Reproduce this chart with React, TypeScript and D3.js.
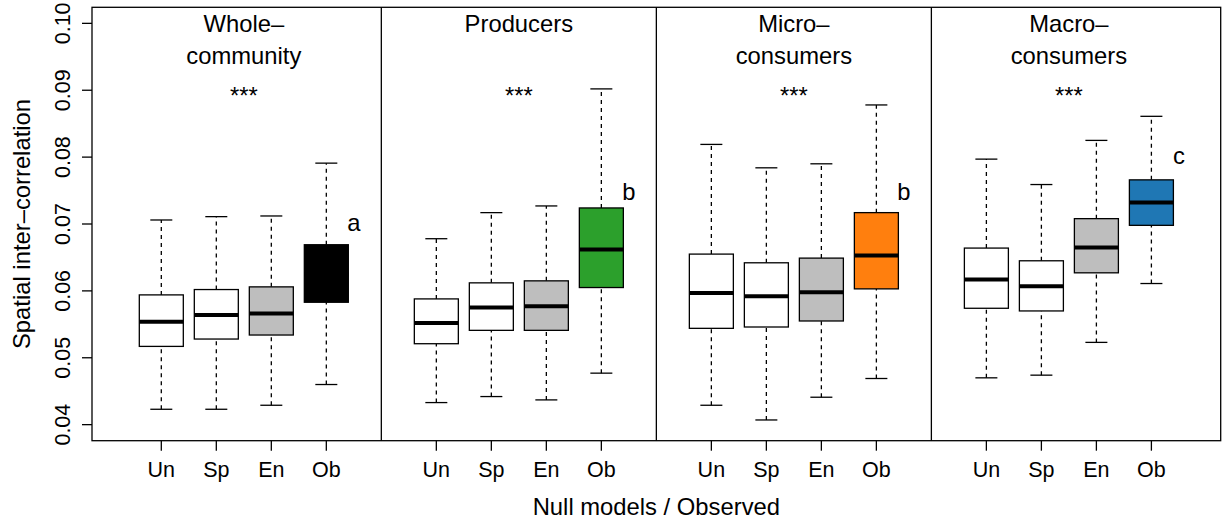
import React, { useEffect, useRef } from 'react';
import * as d3 from 'd3';

// panel titles (two lines where the original wraps)
const groups = [['Whole–', 'community'], ['Producers'], ['Micro–', 'consumers'], ['Macro–', 'consumers']];
const models = ['Un', 'Sp', 'En', 'Ob'];

// box stats per group, in order Un, Sp, En, Ob
const whiskerLow = [
  [0.0423, 0.0423, 0.0429, 0.0460],
  [0.0433, 0.0442, 0.0437, 0.0477],
  [0.0429, 0.0407, 0.0441, 0.0469],
  [0.0470, 0.0474, 0.0523, 0.0611],
];
const q1 = [
  [0.0517, 0.0528, 0.0534, 0.0583],
  [0.0521, 0.0541, 0.0541, 0.0605],
  [0.0544, 0.0546, 0.0555, 0.0603],
  [0.0574, 0.0570, 0.0627, 0.0698],
];
const median = [
  [0.0554, 0.0564, 0.0566, 0.0625],
  [0.0552, 0.0575, 0.0577, 0.0662],
  [0.0597, 0.0592, 0.0598, 0.0653],
  [0.0617, 0.0607, 0.0665, 0.0732],
];
const q3 = [
  [0.0594, 0.0602, 0.0606, 0.0669],
  [0.0588, 0.0612, 0.0615, 0.0724],
  [0.0655, 0.0642, 0.0649, 0.0717],
  [0.0664, 0.0645, 0.0708, 0.0766],
];
const whiskerHigh = [
  [0.0706, 0.0711, 0.0712, 0.0791],
  [0.0678, 0.0717, 0.0727, 0.0902],
  [0.0819, 0.0784, 0.0790, 0.0878],
  [0.0797, 0.0759, 0.0825, 0.0861],
];

const nullFills = ['white', 'white', '#bebebe'];
const obsFills = ['#000000', '#2ca02c', '#ff7f0e', '#1f77b4'];
const letters = ['a', 'b', 'b', 'c'];
const letterY = [0.0690, 0.0736, 0.0736, 0.0789];
const starsY = 0.0879;
const yTicks = [0.04, 0.05, 0.06, 0.07, 0.08, 0.09, 0.10];

const W = 1226;
const H = 524;
const FONT = '"Liberation Sans", Arial, Helvetica, sans-serif';

const BoxPanels = () => {
  const svgRef = useRef<SVGSVGElement>(null);

  useEffect(() => {
    const svg = d3.select(svgRef.current);
    svg.selectAll('*').remove();

    const left = 92, right = 1220.7, top = 7.3, bottom = 440.7;
    const x = d3.scaleLinear().domain([-0.26, 20.26]).range([left, right]);
    const y = d3.scaleLinear().domain([0.0376, 0.1024]).range([bottom, top]);
    const unit = x(1) - x(0);
    const pos = (g: number, m: number) => g * 5 + m + 1;

    const g = svg.append('g');

    // boxes
    groups.forEach((_, gi) => {
      models.forEach((__, mi) => {
        const cx = x(pos(gi, mi));
        const fill = mi < 3 ? nullFills[mi] : obsFills[gi];
        // whiskers
        [[whiskerLow[gi][mi], q1[gi][mi]], [q3[gi][mi], whiskerHigh[gi][mi]]].forEach(([a, b]) => {
          g.append('line')
            .attr('x1', cx).attr('x2', cx)
            .attr('y1', y(a)).attr('y2', y(b))
            .attr('stroke', 'black').attr('stroke-width', 1.3)
            .attr('stroke-dasharray', '4,4');
        });
        [whiskerLow[gi][mi], whiskerHigh[gi][mi]].forEach(v => {
          g.append('line')
            .attr('x1', cx - unit * 0.2).attr('x2', cx + unit * 0.2)
            .attr('y1', y(v)).attr('y2', y(v))
            .attr('stroke', 'black').attr('stroke-width', 1.3);
        });
        g.append('rect')
          .attr('x', cx - unit * 0.4)
          .attr('width', unit * 0.8)
          .attr('y', y(q3[gi][mi]))
          .attr('height', y(q1[gi][mi]) - y(q3[gi][mi]))
          .attr('fill', fill)
          .attr('stroke', 'black').attr('stroke-width', 1.3);
        g.append('line')
          .attr('x1', cx - unit * 0.4).attr('x2', cx + unit * 0.4)
          .attr('y1', y(median[gi][mi])).attr('y2', y(median[gi][mi]))
          .attr('stroke', 'black').attr('stroke-width', 4);
      });

      const mid = x(pos(gi, 1.5));
      groups[gi].forEach((line, li) => {
        g.append('text')
          .attr('x', mid).attr('y', top + 25 + li * 32)
          .attr('text-anchor', 'middle')
          .style('font-family', FONT).style('font-size', '23.8px')
          .text(line);
      });
      g.append('text')
        .attr('x', mid).attr('y', y(starsY))
        .attr('text-anchor', 'middle')
        .style('font-family', FONT).style('font-size', '23.8px')
        .text('***');
      g.append('text')
        .attr('x', x(pos(gi, 3.5))).attr('y', y(letterY[gi]))
        .attr('text-anchor', 'middle')
        .style('font-family', FONT).style('font-size', '23.8px')
        .text(letters[gi]);
    });

    // panel dividers
    [5, 10, 15].forEach(v => {
      g.append('line')
        .attr('x1', x(v)).attr('x2', x(v))
        .attr('y1', top).attr('y2', bottom)
        .attr('stroke', 'black').attr('stroke-width', 1.3);
    });

    // frame
    g.append('rect')
      .attr('x', left).attr('y', top)
      .attr('width', right - left).attr('height', bottom - top)
      .attr('fill', 'none').attr('stroke', 'black').attr('stroke-width', 1.3);

    // y axis
    yTicks.forEach(t => {
      g.append('line')
        .attr('x1', left - 10).attr('x2', left)
        .attr('y1', y(t)).attr('y2', y(t))
        .attr('stroke', 'black').attr('stroke-width', 1.3);
      g.append('text')
        .attr('transform', `translate(70,${y(t)}) rotate(-90)`)
        .attr('text-anchor', 'middle')
        .style('font-family', FONT).style('font-size', '21.5px')
        .text(d3.format('.2f')(t));
    });

    // x axis
    groups.forEach((_, gi) => {
      models.forEach((m, mi) => {
        const cx = x(pos(gi, mi));
        g.append('line')
          .attr('x1', cx).attr('x2', cx)
          .attr('y1', bottom).attr('y2', bottom + 10)
          .attr('stroke', 'black').attr('stroke-width', 1.3);
        g.append('text')
          .attr('x', cx).attr('y', 476.7)
          .attr('text-anchor', 'middle')
          .style('font-family', FONT).style('font-size', '21.5px')
          .text(m);
      });
    });

    g.append('text')
      .attr('x', x(10)).attr('y', 515)
      .attr('text-anchor', 'middle')
      .style('font-family', FONT).style('font-size', '23.8px')
      .text('Null models / Observed');

    g.append('text')
      .attr('transform', `translate(30,${(top + bottom) / 2}) rotate(-90)`)
      .attr('text-anchor', 'middle')
      .style('font-family', FONT).style('font-size', '23.8px')
      .text('Spatial inter–correlation');

    return () => {
      svg.selectAll('*').remove();
    };
  }, []);

  return (
    <svg ref={svgRef} width={W} height={H}
      style={{ position: 'absolute', left: 0, top: 0, background: 'white' }}></svg>
  );
};

export default function App() {
  return <BoxPanels />;
}
